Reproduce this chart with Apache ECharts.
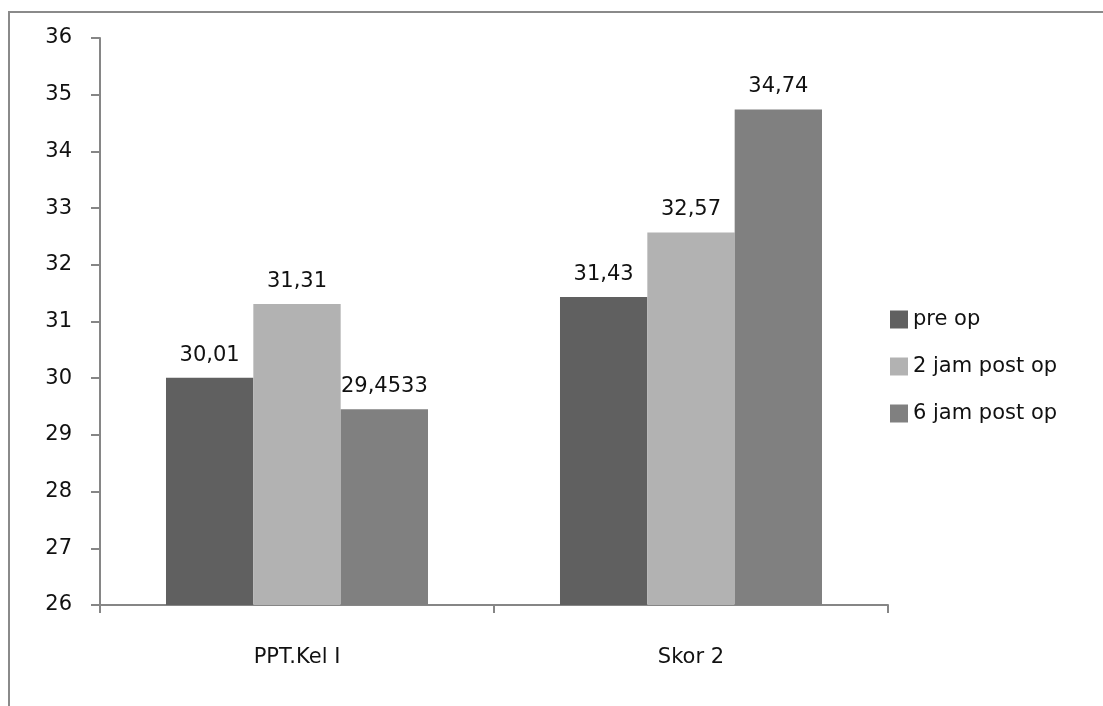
<!DOCTYPE html>
<html>
<head>
<meta charset="utf-8">
<script src="https://cdn.jsdelivr.net/npm/echarts@6/dist/echarts.min.js"></script>
<style>
  html, body { margin: 0; padding: 0; background: #fff; }
  #main { width: 1103px; height: 706px; }
</style>
</head>
<body>
<div id="main"></div>
<script>
const categories = ['PPT.Kel I', 'Skor 2'];
const preOp = [30.01, 31.43];
const post2 = [31.31, 32.57];
const post6 = [29.4533, 34.74];
const seriesNames = ['pre op', '2 jam post op', '6 jam post op'];
const seriesColors = ['#606060', '#b2b2b2', '#808080'];

const textFont = 'DejaVu Sans';
const textColor = '#111';

function bar(name, data, color) {
    return {
        name: name,
        type: 'bar',
        data: data,
        barGap: '0%',
        barCategoryGap: '33.5%',
        itemStyle: { color: color },
        label: {
            show: true,
            position: 'top',
            distance: 12,
            fontFamily: textFont,
            fontSize: 21,
            color: textColor,
            formatter: p => String(p.value).replace('.', ',')
        }
    };
}

let chart = echarts.init(document.getElementById('main'));
chart.setOption({
    animation: false,
    graphic: [{
        type: 'rect',
        shape: { x: 9, y: 12, width: 1200, height: 800 },
        style: { fill: 'none', stroke: '#8a8a8a', lineWidth: 2 }
    }],
    grid: { left: 100, right: 215, top: 38, bottom: 101 },
    legend: {
        orient: 'vertical',
        left: 885,
        top: 304,
        itemWidth: 18,
        itemHeight: 18,
        itemGap: 26,
        icon: 'rect',
        textStyle: { fontFamily: textFont, fontSize: 21, color: textColor },
        data: seriesNames
    },
    xAxis: {
        type: 'category',
        data: categories,
        axisLine: { lineStyle: { color: '#868686', width: 2 } },
        axisTick: { show: true, length: 8, lineStyle: { color: '#868686', width: 2 } },
        axisLabel: { fontFamily: textFont, fontSize: 21, color: textColor, margin: 42 }
    },
    yAxis: {
        type: 'value',
        min: 26,
        max: 36,
        interval: 1,
        splitLine: { show: false },
        axisLine: { show: true, lineStyle: { color: '#868686', width: 2 } },
        axisTick: { show: true, length: 9, lineStyle: { color: '#868686', width: 2 } },
        axisLabel: { fontFamily: textFont, fontSize: 21, color: textColor, margin: 28 }
    },
    series: [
        bar(seriesNames[0], preOp, seriesColors[0]),
        bar(seriesNames[1], post2, seriesColors[1]),
        bar(seriesNames[2], post6, seriesColors[2])
    ]
});
</script>
</body>
</html>
